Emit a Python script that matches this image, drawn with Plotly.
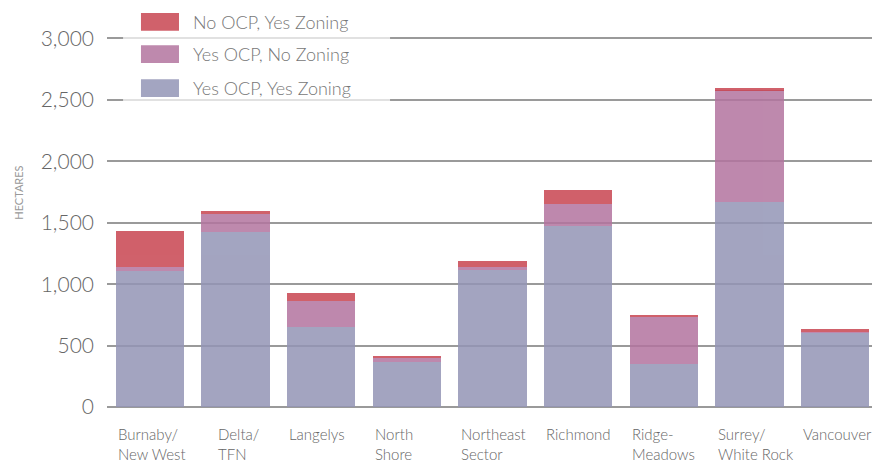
import plotly.graph_objects as go

categories = ["Burnaby/<br>New West", "Delta/<br>TFN", "Langelys", "North<br>Shore",
              "Northeast<br>Sector", "Richmond", "Ridge-<br>Meadows", "Surrey/<br>White Rock",
              "Vancouver"]
cat_keys = ["Burnaby", "Delta", "Langelys", "North Shore", "Northeast", "Richmond",
            "Ridge", "Surrey", "Vancouver"]

yes_ocp_yes_zoning = [1110, 1425, 650, 365, 1115, 1470, 350, 1665, 605]
yes_ocp_no_zoning = [30, 150, 215, 35, 25, 180, 385, 915, 3]
no_ocp_yes_zoning = [290, 20, 60, 15, 45, 115, 12, 15, 28]

series_names = ["Yes OCP, Yes Zoning", "Yes OCP, No Zoning", "No OCP, Yes Zoning"]
series_values = [yes_ocp_yes_zoning, yes_ocp_no_zoning, no_ocp_yes_zoning]
series_colors = ["rgb(147,149,182)", "rgb(179,116,159)", "rgb(200,69,81)"]
legend_colors = ["#a3a5c1", "#be89ad", "#d0616b"]

y_ticks = [0, 500, 1000, 1500, 2000, 2500, 3000]

fig = go.Figure()
for name, vals, col in zip(series_names, series_values, series_colors):
    fig.add_trace(go.Bar(x=cat_keys, y=vals, name=name, marker=dict(color=col, line=dict(width=0)),
                         opacity=0.85, showlegend=False, hoverinfo="skip"))

# x category labels (left aligned under bars)
annotations = []
for i, (key, lab) in enumerate(zip(cat_keys, categories)):
    shift = -34 if key != "Delta" else -20
    annotations.append(dict(x=key, xref="x", y=0, yref="paper", yanchor="top", xanchor="left",
                            xshift=shift, yshift=-16, text=lab, showarrow=False, align="left",
                            font=dict(family="Lato", size=15, color="#666666", weight=300)))

# y title
annotations.append(dict(x=-0.127, xref="paper", y=0.58, yref="paper", text="HECTARES",
                        textangle=-90, showarrow=False,
                        font=dict(family="Lato", size=11, color="#999999")))

shapes = [dict(type="rect", xref="paper", yref="paper", x0=0.021, x1=0.37, y0=0.82, y1=1.08,
               fillcolor="rgba(255,255,255,0.7)", line=dict(width=0), layer="above")]

legend_y = [0.862, 0.954, 1.041]
for name, col, yc in zip(series_names, legend_colors, legend_y):
    shapes.append(dict(type="rect", xref="paper", yref="paper", x0=0.0444, x1=0.0941,
                       y0=yc - 0.024, y1=yc + 0.024, fillcolor=col, line=dict(width=0),
                       layer="above"))
    annotations.append(dict(x=0.1098, xref="paper", y=yc, yref="paper", xanchor="left",
                            yanchor="middle", text=name, showarrow=False,
                            font=dict(family="Lato", size=18, color="#777777", weight=300)))

fig.update_layout(
    width=872, height=463,
    margin=dict(l=107, r=0, t=37, b=56),
    barmode="stack", bargap=0.2,
    plot_bgcolor="white", paper_bgcolor="white",
    xaxis=dict(type="category", range=[-0.5, 8.43], showticklabels=False, showgrid=False,
               showline=False, ticks=""),
    yaxis=dict(range=[0, 3012], tickvals=y_ticks, tickformat=",", showgrid=True,
               gridcolor="#9a9a9a", gridwidth=1.5, zeroline=True, zerolinecolor="#9a9a9a",
               zerolinewidth=1.5, ticks="", ticklabelstandoff=12,
               tickfont=dict(family="Lato", size=21, color="#666666", weight=300)),
    annotations=annotations, shapes=shapes,
)

fig.write_html("out.html", config={"displayModeBar": False},
               post_script="document.body.style.margin='0';document.body.style.overflow='hidden';")
